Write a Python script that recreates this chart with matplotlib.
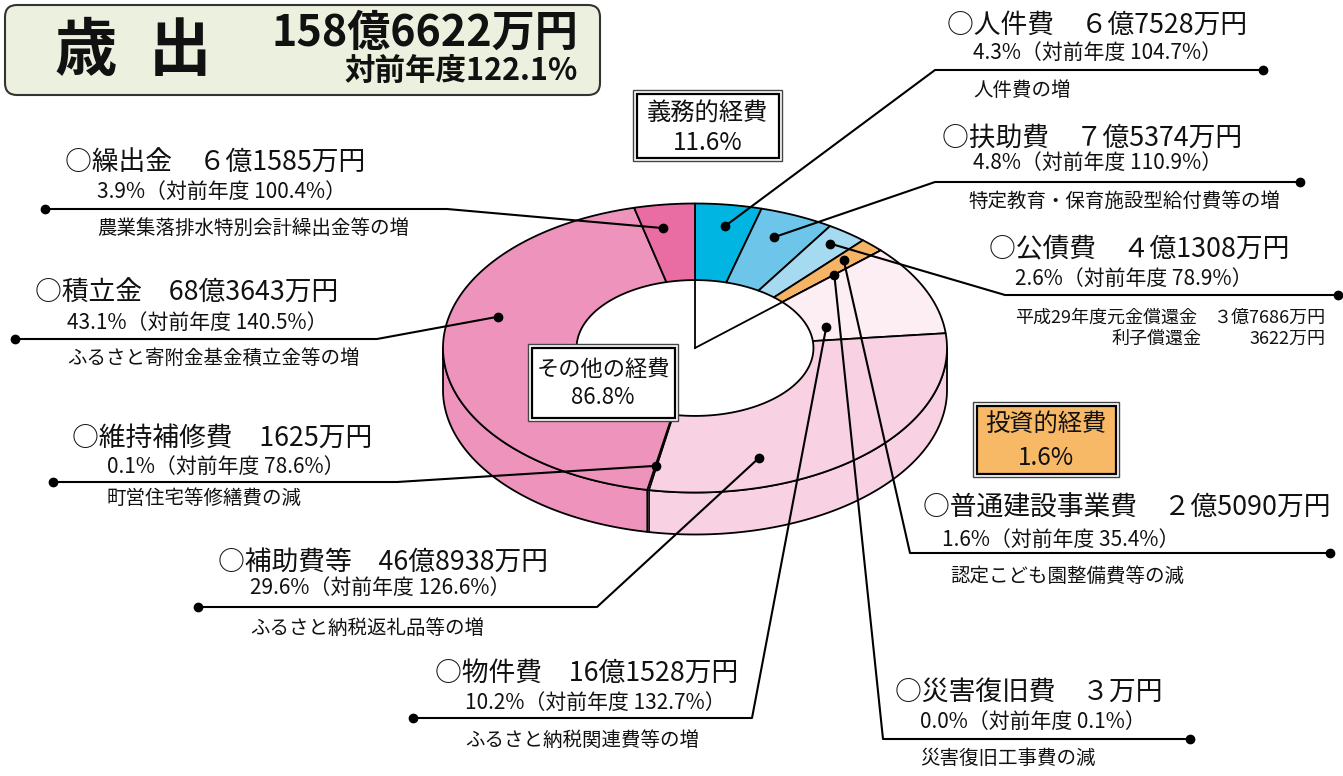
import matplotlib
matplotlib.use('Agg')
import matplotlib.pyplot as plt
from matplotlib.patches import Polygon, FancyBboxPatch, Rectangle
import numpy as np

plt.rcParams['font.family'] = ['Noto Sans CJK JP', 'DejaVu Sans']

# ---------------- data ----------------
names = ['人件費', '扶助費', '公債費', '普通建設事業費', '災害復旧費',
         '物件費', '補助費等', '維持補修費', '積立金', '繰出金']
amounts_man = [67528, 75374, 41308, 25090, 3, 161528, 468938, 1625, 683643, 61585]
amount_labels = ['６億7528万円', '７億5374万円', '４億1308万円', '２億5090万円', '３万円',
                 '16億1528万円', '46億8938万円', '1625万円', '68億3643万円', '６億1585万円']
share_labels = ['4.3%', '4.8%', '2.6%', '1.6%', '0.0%', '10.2%', '29.6%', '0.1%', '43.1%', '3.9%']
yoy_labels = ['104.7%', '110.9%', '78.9%', '35.4%', '0.1%', '132.7%', '126.6%', '78.6%', '140.5%', '100.4%']
notes = ['人件費の増', '特定教育・保育施設型給付費等の増', '', '認定こども園整備費等の減',
         '災害復旧工事費の減', 'ふるさと納税関連費等の増', 'ふるさと納税返礼品等の増',
         '町営住宅等修繕費の減', 'ふるさと寄附金基金積立金等の増', '農業集落排水特別会計繰出金等の増']
debt_notes = [('平成29年度元金償還金', '３億7686万円'), ('利子償還金', '3622万円')]
colors = ['#00B5E2', '#6DC6EA', '#A6DAF0', '#F6B466', '#F6B466',
          '#FDEEF4', '#F8D1E3', '#FFFFFF', '#EE94BC', '#E96CA3']
groups = [('義務的経費', '11.6%'), ('投資的経費', '1.6%'), ('その他の経費', '86.8%')]
total_label = '158億6622万円'
total_yoy = '対前年度122.1%'

# ---------------- layout ----------------
fig = plt.figure(figsize=(13.43, 7.76), dpi=100)
ax = fig.add_axes([0, 0, 1, 1])
ax.set_xlim(0, 1343)
ax.set_ylim(776, 0)
ax.axis('off')

CX, CY, RA, RB, RI, DEPTH = 695, 348, 252, 144.5, 0.47, 42


def pt(theta, r=1.0, dz=0.0):
    th = np.radians(theta)
    return CX + r * RA * np.sin(th), CY - r * RB * np.cos(th) + dz


def arc(t0, t1, r=1.0, dz=0.0):
    n = max(2, int(abs(t1 - t0) * 2) + 2)
    ts = np.linspace(t0, t1, n)
    return [pt(t, r, dz) for t in ts]


amts = np.array(amounts_man, dtype=float)
fr = amts / amts.sum()
ends = np.cumsum(fr) * 360
starts = ends - fr * 360

# side walls (front half)
for s, e, c in zip(starts, ends, colors):
    a0, a1 = max(s, 90), min(e, 270)
    if a1 > a0:
        poly = arc(a0, a1) + arc(a1, a0, dz=DEPTH)
        lw = 0.9 if (e - s) < 1 else 1.3
        ax.add_patch(Polygon(poly, closed=True, facecolor=c, edgecolor='black',
                             linewidth=lw, joinstyle='round'))

# top face
for s, e, c in zip(starts, ends, colors):
    poly = arc(s, e) + arc(e, s, r=RI)
    lw = 0.9 if (e - s) < 1 else 1.3
    ax.add_patch(Polygon(poly, closed=True, facecolor=c, edgecolor='black',
                         linewidth=lw, joinstyle='round'))

# inner hole cut lines
for t in [0, ends[4]]:
    x, y = pt(t, RI)
    ax.plot([CX, x], [CY, y], color='black', lw=1.3)

# ---------------- leaders and labels ----------------
# (t within slice, radius, elbow x, line y, end x, header xy, sub xy, note xy)
lay = [
    (0.52, 0.85, 935, 70, 1263, (947, 25), (973, 53), (973, 91)),
    (0.41, 0.83, 935, 182, 1300, (942, 138), (973, 163), (968, 201)),
    (0.45, 0.90, 1005, 295, 1338, (989, 250), (1015, 279), None),
    (0.37, 0.85, 910, 553, 1330, (923, 507), (942, 540), (950, 576)),
    (0.50, 0.75, 883, 739, 1190, (895, 692), (920, 722), (920, 758)),
    (0.74, 0.54, 752, 718, 413, (435, 673), (465, 703), (465, 740)),
    (0.726, 0.80, 597, 607, 198, (218, 562), (250, 588), (250, 628)),
    (0.50, 0.83, 397, 482, 53, (72, 438), (107, 467), (107, 498)),
    (0.61, 0.81, 377, 339, 15, (35, 293), (67, 323), (67, 358)),
    (0.37, 0.84, 447, 209, 45, (65, 163), (97, 192), (97, 228)),
]

HFS, SFS, NFS = 19.3, 15, 14
for i, (t, r, ex, ly, lx, hxy, sxy, nxy) in enumerate(lay):
    th = starts[i] + t * (ends[i] - starts[i])
    dx, dy = pt(th, r)
    ax.plot([dx, ex, lx], [dy, ly, ly], color='black', lw=1.5, solid_capstyle='round')
    ax.plot([dx, lx], [dy, ly], 'o', color='black', ms=6)
    ax.text(hxy[0], hxy[1], '○' + names[i] + '　' + amount_labels[i],
            fontsize=HFS, ha='left', va='center', color='#111')
    ax.text(sxy[0], sxy[1], share_labels[i] + '（対前年度 ' + yoy_labels[i] + '）',
            fontsize=SFS, ha='left', va='center', color='#111')
    if nxy is not None and notes[i]:
        ax.text(nxy[0], nxy[1], notes[i], fontsize=NFS, ha='left', va='center', color='#111')

# debt detail notes
DFS = 13
ax.text(1015, 318, debt_notes[0][0], fontsize=DFS, ha='left', va='center', color='#111')
ax.text(1325, 318, debt_notes[0][1], fontsize=DFS, ha='right', va='center', color='#111')
ax.text(1112, 339, debt_notes[1][0], fontsize=DFS, ha='left', va='center', color='#111')
ax.text(1325, 339, debt_notes[1][1], fontsize=DFS, ha='right', va='center', color='#111')


# ---------------- category boxes ----------------
def double_box(x0, y0, x1, y1, face):
    ax.add_patch(Rectangle((x0, y0), x1 - x0, y1 - y0, facecolor='white',
                           edgecolor='#444', lw=1.0))
    ax.add_patch(Rectangle((x0 + 3.5, y0 + 3.5), x1 - x0 - 7, y1 - y0 - 7,
                           facecolor=face, edgecolor='black', lw=1.6))


box_geo = [((633, 90, 782, 161), 'white', 113, 143, 17.5),
           ((973, 402, 1119, 477), '#F8B966', 425, 458, 17.5),
           ((528, 344, 678, 421), 'white', 369, 398, 16)]
for k in range(3):
    (x0, y0, x1, y1), face, y_a, y_b, fs = box_geo[k]
    double_box(x0, y0, x1, y1, face)
    xc = (x0 + x1) / 2
    ax.text(xc, y_a, groups[k][0], fontsize=fs, ha='center', va='center', color='#111')
    ax.text(xc, y_b, groups[k][1], fontsize=fs, ha='center', va='center', color='#111')

# ---------------- title ----------------
ax.add_patch(FancyBboxPatch((5, 5), 595, 90, boxstyle='round,pad=0,rounding_size=12',
                            facecolor='#EBF1DE', edgecolor='#333', lw=1.5))
ax.text(86, 52, '歳', fontsize=45, fontweight='bold', ha='center', va='center', color='#111')
ax.text(180, 52, '出', fontsize=45, fontweight='bold', ha='center', va='center', color='#111')
ax.text(578, 33, total_label, fontsize=31, fontweight='bold', ha='right', va='center', color='#111')
ax.text(578, 71, total_yoy, fontsize=22, fontweight='bold', ha='right', va='center', color='#111')

fig.savefig('out.png', dpi=100)
